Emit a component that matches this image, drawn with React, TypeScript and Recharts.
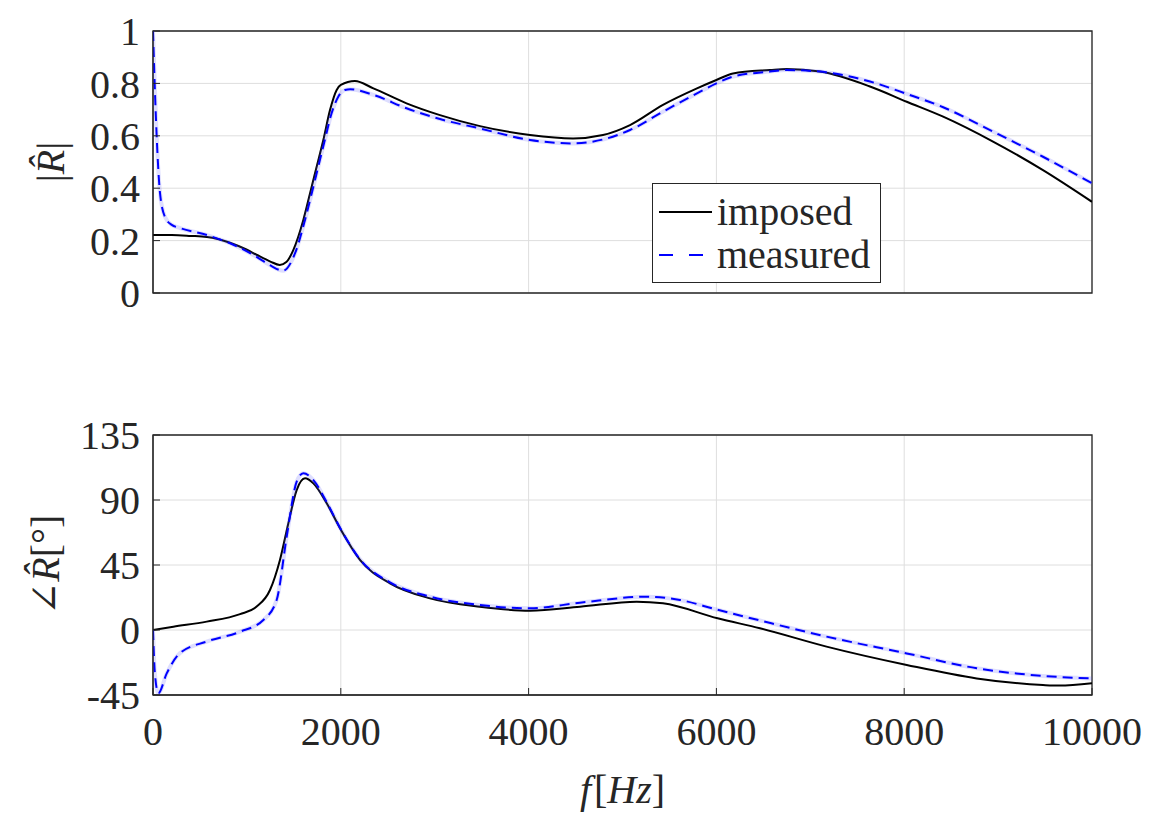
import { LineChart, Line, XAxis, YAxis, CartesianGrid, ReferenceArea, Legend } from "recharts";

const SERIF = '"Liberation Serif", "DejaVu Serif", serif';
const INK = "#262626";
const GRID = "#dedede";

const FREQ_TICKS = [0, 2000, 4000, 6000, 8000, 10000];
const MAG_TICKS = [0, 0.2, 0.4, 0.6, 0.8, 1];
const PHASE_TICKS = [-45, 0, 45, 90, 135];

// |R| imposed
const magImposedF = [0, 200, 400, 575, 820, 1000, 1107, 1250, 1350, 1420, 1494, 1601, 1672, 1743, 1814, 1885, 1956, 2000, 2150, 2347, 2700, 3056, 3482, 4015, 4473, 4792, 5080, 5431, 5793, 6000, 6177, 6571, 6748, 7103, 7636, 8027, 8415, 8946, 9478, 10000];
const magImposed = [0.221, 0.221, 0.218, 0.214, 0.192, 0.165, 0.145, 0.12, 0.107, 0.118, 0.164, 0.279, 0.38, 0.482, 0.584, 0.698, 0.775, 0.794, 0.809, 0.781, 0.724, 0.679, 0.637, 0.603, 0.59, 0.603, 0.641, 0.718, 0.781, 0.813, 0.838, 0.851, 0.855, 0.845, 0.788, 0.73, 0.673, 0.578, 0.469, 0.348];

// |R| measured
const magMeasuredF = [0, 32, 75, 128, 200, 288, 575, 820, 1107, 1250, 1385, 1512, 1619, 1690, 1760, 1830, 1902, 1973, 2045, 2100, 2347, 2700, 3056, 3482, 4015, 4473, 4792, 5080, 5431, 5793, 6000, 6177, 6571, 6748, 7103, 7636, 8027, 8415, 8946, 9478, 10000];
const magMeasured = [1.0, 0.66, 0.38, 0.29, 0.26, 0.248, 0.221, 0.19, 0.137, 0.105, 0.085, 0.151, 0.279, 0.38, 0.482, 0.584, 0.686, 0.749, 0.775, 0.778, 0.756, 0.705, 0.664, 0.628, 0.584, 0.571, 0.586, 0.622, 0.692, 0.762, 0.8, 0.826, 0.845, 0.851, 0.845, 0.807, 0.76, 0.709, 0.616, 0.52, 0.419];

// angle imposed (deg)
const phaseImposedF = [0, 217, 572, 927, 1104, 1246, 1352, 1441, 1530, 1619, 1708, 1850, 2002, 2204, 2524, 2950, 3482, 4015, 4547, 5151, 5431, 6013, 6464, 7173, 8027, 8772, 9478, 9650, 10000];
const phaseImposed = [0, 2.3, 5.8, 11, 16.2, 27.7, 48.5, 73.8, 96.9, 105, 101.5, 87.7, 69.2, 48.5, 32.3, 21.9, 16.1, 13.4, 16.1, 19.6, 18.5, 8.1, 1.2, -11.5, -24.2, -33.5, -38.1, -38.5, -36.9];

// angle measured (deg)
const phaseMeasuredF = [0, 20, 57, 146, 288, 572, 927, 1175, 1317, 1424, 1530, 1601, 1708, 1850, 2002, 2204, 2524, 2950, 3482, 4015, 4547, 5257, 5612, 6000, 6464, 7173, 8027, 8772, 9478, 10000];
const phaseMeasured = [0, -30, -43.8, -30, -16, -8, -1.2, 6.9, 20.8, 64.6, 102.7, 108.5, 103.8, 88.5, 69.5, 49, 33, 23.1, 17.3, 15, 18.9, 23.1, 20.8, 14.2, 6.6, -4.6, -16.2, -26.5, -31.8, -33.5];

const zip = (f: number[], v: number[]) => f.map((x, i) => ({ f: x, v: v[i] }));

const tickStyle = { fontSize: 40, fill: INK, fontFamily: SERIF };

function MagLabel({ viewBox }: any) {
  const cx = viewBox.x + 40;
  const cy = viewBox.y + viewBox.height / 2;
  return (
    <text x={cx} y={cy} transform={`rotate(-90, ${cx}, ${cy})`} textAnchor="middle" dominantBaseline="central" fontSize={40} fill={INK} fontFamily={SERIF}>
      <tspan>|</tspan>
      <tspan fontStyle="italic">R̂</tspan>
      <tspan>|</tspan>
    </text>
  );
}

function PhaseLabel({ viewBox }: any) {
  const cx = viewBox.x + 35;
  const cy = viewBox.y + viewBox.height / 2;
  return (
    <text x={cx} y={cy} transform={`rotate(-90, ${cx}, ${cy})`} textAnchor="middle" dominantBaseline="central" fontSize={40} fill={INK} fontFamily={SERIF}>
      <tspan>∠</tspan>
      <tspan fontStyle="italic">R̂</tspan>
      <tspan>[°]</tspan>
    </text>
  );
}

function FreqLabel({ viewBox }: any) {
  const cx = viewBox.x + viewBox.width / 2;
  return (
    <text x={cx} y={viewBox.y + 108} textAnchor="middle" fontSize={40} fill={INK} fontFamily={SERIF}>
      <tspan fontStyle="italic">f</tspan>
      <tspan dx={3}>[</tspan>
      <tspan fontStyle="italic">Hz</tspan>
      <tspan>]</tspan>
    </text>
  );
}

function LegendBox() {
  const row = { display: "flex", alignItems: "center", height: 43 };
  return (
    <div style={{ border: `1px solid ${INK}`, background: "#fff", padding: "6px 0 6px 6px", fontFamily: SERIF, fontSize: 40, color: INK, lineHeight: "43px" }}>
      <div style={row}>
        <svg width={53} height={10}>
          <line x1={0} y1={5} x2={53} y2={5} stroke="#000" strokeWidth={2} />
        </svg>
        <span style={{ marginLeft: 5 }}>imposed</span>
      </div>
      <div style={row}>
        <svg width={53} height={10}>
          <line x1={0} y1={5} x2={53} y2={5} stroke="#0000ff" strokeWidth={2} strokeDasharray="14 16" />
        </svg>
        <span style={{ marginLeft: 5 }}>measured</span>
      </div>
    </div>
  );
}

export default function App() {
  return (
    <div style={{ position: "absolute", left: 0, top: 0, width: 1151, height: 815, background: "#fff", fontFamily: SERIF }}>
      <LineChart width={1151} height={360} margin={{ top: 31, right: 59, bottom: 67, left: 10 }} style={{ fontFamily: SERIF }}>
        <CartesianGrid stroke={GRID} strokeWidth={1} />
        <XAxis type="number" dataKey="f" domain={[0, 10000]} ticks={FREQ_TICKS} hide allowDataOverflow />
        <YAxis
          type="number"
          domain={[0, 1]}
          ticks={MAG_TICKS}
          width={143}
          tick={tickStyle}
          tickSize={-7}
          tickMargin={20}
          stroke={INK}
          label={{ content: <MagLabel /> } as any}
        />
        <Line data={zip(magImposedF, magImposed)} dataKey="v" type="monotone" stroke="#000" strokeWidth={2} dot={false} isAnimationActive={false} />
        <Line data={zip(magMeasuredF, magMeasured)} dataKey="v" type="monotone" stroke="#5a5aff" strokeOpacity={0.2} strokeWidth={4} dot={false} isAnimationActive={false} legendType="none" />
        <Line data={zip(magMeasuredF, magMeasured)} dataKey="v" type="monotone" stroke="#0000ff" strokeWidth={2} strokeDasharray="10 6" dot={false} isAnimationActive={false} />
        <ReferenceArea x1={0} x2={10000} y1={0} y2={1} fill="none" stroke={INK} strokeWidth={1.3} ifOverflow="visible" />
        <Legend layout="horizontal" align="center" verticalAlign="middle" wrapperStyle={{ left: 652, top: 183, width: 229 }} content={<LegendBox />} />
      </LineChart>
      <LineChart width={1151} height={455} margin={{ top: 75, right: 59, bottom: 0, left: 10 }} style={{ fontFamily: SERIF }}>
        <CartesianGrid stroke={GRID} strokeWidth={1} />
        <XAxis
          type="number"
          dataKey="f"
          domain={[0, 10000]}
          ticks={FREQ_TICKS}
          height={120}
          tick={tickStyle}
          tickSize={-7}
          tickMargin={29}
          stroke={INK}
          allowDataOverflow
          label={{ content: <FreqLabel /> } as any}
        />
        <YAxis
          type="number"
          domain={[-45, 135]}
          ticks={PHASE_TICKS}
          width={143}
          tick={tickStyle}
          tickSize={-7}
          tickMargin={20}
          stroke={INK}
          allowDataOverflow
          label={{ content: <PhaseLabel /> } as any}
        />
        <Line data={zip(phaseImposedF, phaseImposed)} dataKey="v" type="monotone" stroke="#000" strokeWidth={2} dot={false} isAnimationActive={false} />
        <Line data={zip(phaseMeasuredF, phaseMeasured)} dataKey="v" type="monotone" stroke="#5a5aff" strokeOpacity={0.2} strokeWidth={4} dot={false} isAnimationActive={false} legendType="none" />
        <Line data={zip(phaseMeasuredF, phaseMeasured)} dataKey="v" type="monotone" stroke="#0000ff" strokeWidth={2} strokeDasharray="10 6" dot={false} isAnimationActive={false} />
        <ReferenceArea x1={0} x2={10000} y1={-45} y2={135} fill="none" stroke={INK} strokeWidth={1.3} ifOverflow="visible" />
      </LineChart>
    </div>
  );
}
